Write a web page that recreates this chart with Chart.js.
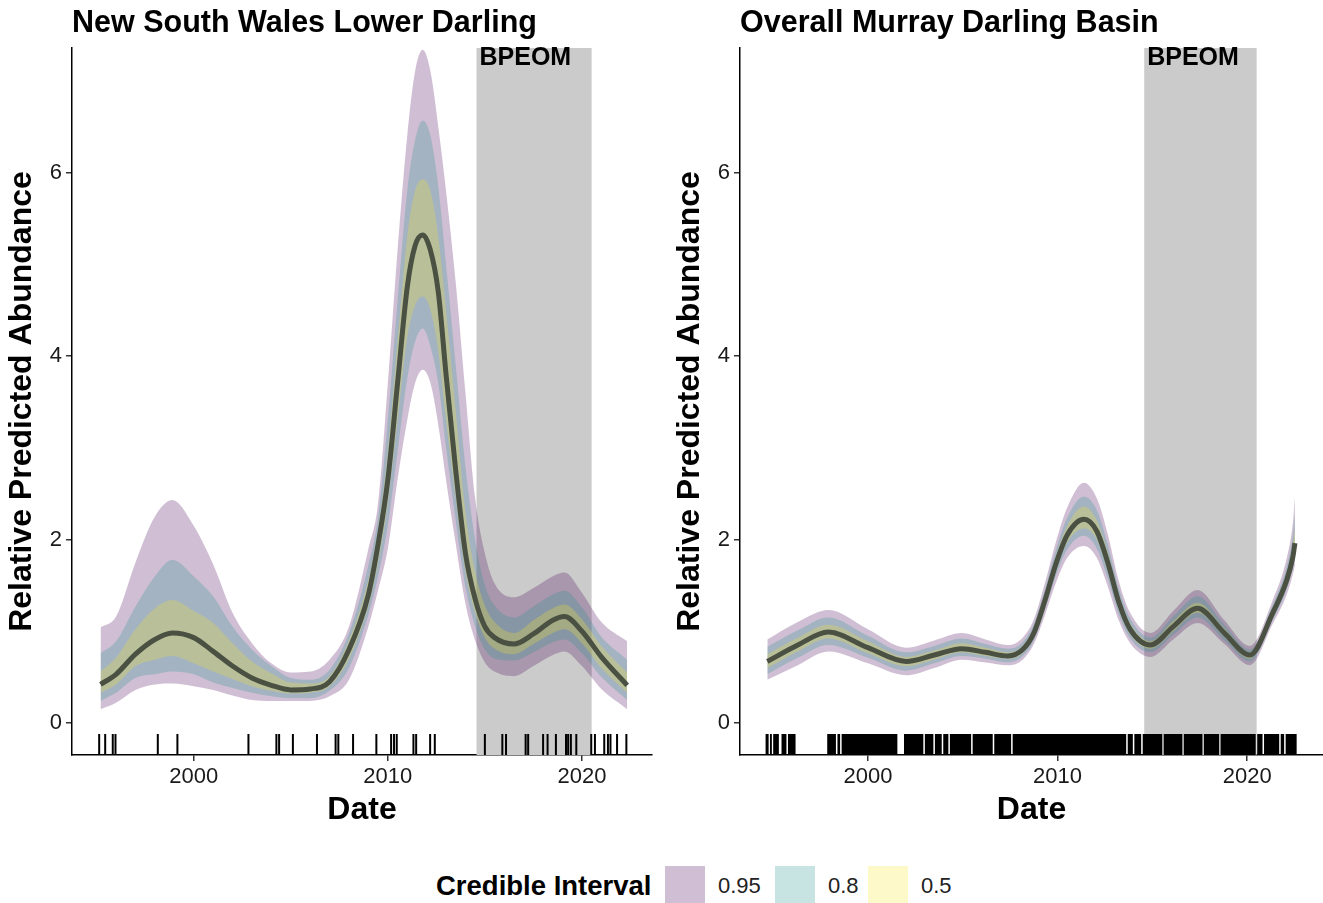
<!DOCTYPE html>
<html>
<head>
<meta charset="utf-8">
<script src="https://cdn.jsdelivr.net/npm/chart.js@4"></script>
<style>
  body { margin: 0; background: #fff; width: 1323px; height: 903px; overflow: hidden; position: relative;
         font-family: "Liberation Sans", Arial, sans-serif; }
  .panel { position: absolute; top: 0; height: 840px; }
  #legend { position: absolute; left: 0; top: 866px; width: 1323px; height: 40px; }
  #legend span { position: absolute; top: 0; height: 40px; line-height: 40px; white-space: nowrap; }
  #legend .ttl { font-weight: bold; font-size: 27.5px; color: #000; }
  #legend .lbl { font-size: 22px; color: #222; }
</style>
</head>
<body>
<div class="panel" style="left:0;width:662px"><canvas id="nsw"></canvas></div>
<div class="panel" style="left:668px;width:655px"><canvas id="mdb"></canvas></div>
<div id="legend"></div>

<script>
// model fits: decimal year, posterior mean and credible bounds
const nswYear = [1995.2, 1996, 1997, 1998, 1998.9, 2000, 2001, 2002, 2003, 2004, 2005, 2006, 2007, 2008, 2009,
  2009.5, 2010, 2010.5, 2011, 2011.4, 2011.8, 2012.2, 2012.6, 2013, 2013.5, 2014, 2014.5, 2015, 2015.5, 2016.5,
  2017.5, 2018.5, 2019.1, 2020, 2021, 2022.33];
const nswMean = [0.42, 0.53, 0.75, 0.91, 0.98, 0.93, 0.78, 0.62, 0.49, 0.41, 0.36, 0.37, 0.45, 0.80, 1.40,
  1.95, 2.65, 3.70, 4.75, 5.20, 5.32, 5.15, 4.70, 3.80, 2.75, 1.85, 1.35, 1.05, 0.93, 0.86,
  0.97, 1.12, 1.16, 1.00, 0.72, 0.41];
const nswHi95 = [1.04, 1.16, 1.75, 2.25, 2.43, 2.15, 1.73, 1.20, 0.87, 0.65, 0.55, 0.56, 0.69, 1.05, 1.90,
  2.40, 3.70, 5.15, 6.40, 7.10, 7.34, 7.10, 6.50, 5.80, 4.80, 3.60, 2.45, 1.85, 1.52, 1.37,
  1.47, 1.60, 1.64, 1.42, 1.10, 0.89];
const nswLo95 = [0.15, 0.22, 0.36, 0.42, 0.43, 0.40, 0.36, 0.30, 0.25, 0.24, 0.24, 0.24, 0.29, 0.47, 1.05,
  1.45, 1.90, 2.65, 3.30, 3.70, 3.85, 3.70, 3.25, 2.65, 1.95, 1.30, 0.90, 0.66, 0.56, 0.51,
  0.62, 0.74, 0.78, 0.62, 0.37, 0.15];
const nswHi80 = [0.76, 0.89, 1.27, 1.60, 1.78, 1.60, 1.38, 1.05, 0.80, 0.62, 0.49, 0.47, 0.58, 0.98, 1.72,
  2.25, 3.30, 4.60, 5.80, 6.35, 6.57, 6.40, 5.85, 5.00, 3.90, 2.80, 2.00, 1.50, 1.28, 1.15,
  1.27, 1.40, 1.44, 1.26, 0.94, 0.69];
const nswLo80 = [0.24, 0.33, 0.49, 0.53, 0.56, 0.53, 0.44, 0.38, 0.33, 0.29, 0.27, 0.27, 0.35, 0.60, 1.18,
  1.60, 2.15, 2.95, 3.75, 4.15, 4.30, 4.10, 3.70, 3.00, 2.20, 1.48, 1.05, 0.80, 0.70, 0.68,
  0.77, 0.88, 0.91, 0.76, 0.50, 0.25];
const nswHi50 = [0.56, 0.71, 1.02, 1.25, 1.34, 1.22, 1.09, 0.87, 0.67, 0.54, 0.44, 0.43, 0.51, 0.90, 1.56,
  2.10, 2.95, 4.15, 5.30, 5.80, 5.93, 5.80, 5.30, 4.50, 3.40, 2.30, 1.65, 1.28, 1.10, 0.98,
  1.12, 1.25, 1.29, 1.13, 0.84, 0.55];
const nswLo50 = [0.33, 0.42, 0.62, 0.69, 0.73, 0.65, 0.56, 0.48, 0.40, 0.35, 0.32, 0.33, 0.40, 0.70, 1.28,
  1.75, 2.40, 3.30, 4.20, 4.55, 4.65, 4.50, 4.05, 3.30, 2.45, 1.65, 1.20, 0.93, 0.81, 0.75,
  0.86, 0.98, 1.02, 0.87, 0.60, 0.33];

const mdbYear = [1994.69, 1996.3, 1997.91, 2000.0, 2002.01, 2003.5, 2004.94, 2006.2, 2007.38, 2008.16,
  2008.75, 2009.34, 2009.92, 2010.51, 2011.39, 2012.07, 2012.66, 2013.24, 2013.83, 2014.9,
  2016.1, 2017.38, 2018.8, 2020.14, 2021.35, 2022.09, 2022.41, 2022.52];
const mdbMean = [0.67, 0.85, 0.99, 0.82, 0.67, 0.74, 0.81, 0.77, 0.73, 0.80,
  0.98, 1.34, 1.74, 2.05, 2.22, 2.09, 1.74, 1.31, 1.02, 0.85,
  1.05, 1.25, 0.98, 0.74, 1.20, 1.56, 1.81, 1.96];
const mdbHi95 = [0.91, 1.10, 1.23, 1.02, 0.82, 0.90, 0.98, 0.91, 0.85, 0.93,
  1.13, 1.53, 1.98, 2.35, 2.62, 2.45, 2.05, 1.54, 1.20, 0.98,
  1.22, 1.45, 1.12, 0.84, 1.34, 1.80, 2.18, 2.47];
const mdbLo95 = [0.47, 0.63, 0.78, 0.65, 0.52, 0.60, 0.69, 0.66, 0.63, 0.69,
  0.86, 1.18, 1.53, 1.80, 1.93, 1.80, 1.48, 1.11, 0.87, 0.72,
  0.91, 1.09, 0.86, 0.63, 1.08, 1.40, 1.62, 1.72];
const mdbHi80 = [0.83, 1.01, 1.15, 0.95, 0.77, 0.84, 0.92, 0.86, 0.81, 0.88,
  1.08, 1.46, 1.89, 2.24, 2.47, 2.32, 1.94, 1.46, 1.14, 0.93,
  1.16, 1.38, 1.07, 0.80, 1.29, 1.71, 2.05, 2.28];
const mdbLo80 = [0.53, 0.71, 0.85, 0.71, 0.57, 0.65, 0.73, 0.70, 0.66, 0.73,
  0.90, 1.24, 1.61, 1.89, 2.04, 1.90, 1.57, 1.18, 0.92, 0.77,
  0.96, 1.15, 0.90, 0.67, 1.12, 1.46, 1.69, 1.81];
const mdbHi50 = [0.75, 0.93, 1.07, 0.89, 0.72, 0.79, 0.87, 0.82, 0.77, 0.84,
  1.03, 1.40, 1.82, 2.15, 2.36, 2.21, 1.85, 1.39, 1.08, 0.89,
  1.11, 1.31, 1.03, 0.77, 1.25, 1.64, 1.94, 2.13];
const mdbLo50 = [0.60, 0.78, 0.92, 0.76, 0.62, 0.69, 0.77, 0.73, 0.70, 0.76,
  0.94, 1.29, 1.67, 1.97, 2.12, 2.00, 1.65, 1.24, 0.97, 0.81,
  1.00, 1.20, 0.94, 0.70, 1.16, 1.50, 1.75, 1.88];

// survey dates (rug)
const nswRugDates = [1995.13, 1995.44, 1995.83, 1995.97, 1998.15, 1999.16, 2002.82, 2004.26, 2004.40, 2005.11,
  2006.35, 2007.31, 2007.45, 2008.21, 2009.41, 2010.17, 2010.32, 2010.46, 2011.32, 2011.46,
  2012.18, 2012.42, 2015.00, 2015.90, 2016.09, 2017.10, 2017.23, 2018.00, 2018.23, 2018.66,
  2019.18, 2019.29, 2019.43, 2019.71, 2020.48, 2020.67, 2021.15, 2021.34, 2021.47, 2021.81, 2022.29];
// basin-wide sampling is near continuous, so it is kept as runs of dates
const mdbRugSpans = [
  [1994.60, 1994.76], [1994.83, 1994.93], [1995.00, 1995.30], [1995.44, 1995.70], [1995.78, 1996.18],
  [1997.85, 1998.31], [1998.39, 1998.53], [1998.61, 2001.55],
  [2001.90, 2002.92], [2003.00, 2003.45], [2003.53, 2003.89], [2003.97, 2004.24], [2004.32, 2005.44],
  [2005.52, 2006.58], [2006.66, 2007.55], [2007.63, 2013.62], [2013.70, 2013.97], [2014.05, 2014.41],
  [2014.49, 2015.52], [2015.60, 2016.58], [2016.66, 2017.64], [2017.72, 2018.52], [2018.60, 2020.45],
  [2020.53, 2020.81], [2020.89, 2021.69], [2021.77, 2021.95], [2022.03, 2022.61]
];

const bpeomPeriod = [2014.57, 2020.5];
const xTickYears = [2000, 2010, 2020];
const yTickValues = [0, 2, 4, 6];
const intervalLevels = ['0.95', '0.8', '0.5'];
const levelFill = {
  '0.95': 'rgba(68, 1, 84, 0.25)',
  '0.8': 'rgba(33, 144, 140, 0.25)',
  '0.5': 'rgba(253, 231, 37, 0.25)'
};

const FONT = '"Liberation Sans", Arial, sans-serif';
Chart.defaults.font.family = FONT;
Chart.defaults.color = '#1a1a1a';
Chart.defaults.animation = false;

const pts = (xs, ys) => xs.map((x, i) => ({ x: x, y: ys[i] }));

function bandPair(xs, hi, lo, level) {
  return [
    { data: pts(xs, hi), borderColor: 'transparent', borderWidth: 0, pointRadius: 0,
      backgroundColor: levelFill[level], fill: { target: '+1' }, cubicInterpolationMode: 'monotone' },
    { data: pts(xs, lo), borderColor: 'transparent', borderWidth: 0, pointRadius: 0,
      fill: false, cubicInterpolationMode: 'monotone' }
  ];
}

// grey management period with its label
const bpeomShade = {
  id: 'bpeomShade',
  beforeDatasetsDraw(chart) {
    const { ctx, chartArea, scales: { x } } = chart;
    const x0 = x.getPixelForValue(bpeomPeriod[0]);
    const x1 = x.getPixelForValue(bpeomPeriod[1]);
    ctx.save();
    ctx.fillStyle = '#cbcbcb';
    ctx.fillRect(x0, chartArea.top, x1 - x0, chartArea.bottom - chartArea.top);
    ctx.fillStyle = '#000';
    ctx.font = 'bold 25px ' + FONT;
    ctx.textBaseline = 'top';
    ctx.fillText('BPEOM', x0 + 3, chartArea.top - 2);
    ctx.restore();
  }
};

// rug of survey dates along the bottom of the panel
const rugPlugin = {
  id: 'rug',
  afterDatasetsDraw(chart, args, opts) {
    const { ctx, chartArea, scales: { x } } = chart;
    const len = 21;
    ctx.save();
    ctx.fillStyle = '#000';
    (opts.dates || []).forEach(d => {
      const px = x.getPixelForValue(d);
      ctx.fillRect(px - 1, chartArea.bottom - len, 2, len);
    });
    (opts.spans || []).forEach(([a, b]) => {
      const p0 = x.getPixelForValue(a), p1 = x.getPixelForValue(b);
      ctx.fillRect(p0, chartArea.bottom - len, p1 - p0, len);
    });
    ctx.restore();
  }
};

const panelTitle = {
  id: 'panelTitle',
  afterDraw(chart, args, opts) {
    const { ctx, chartArea } = chart;
    ctx.save();
    ctx.fillStyle = '#000';
    ctx.font = 'bold 30.5px ' + FONT;
    ctx.textBaseline = 'alphabetic';
    ctx.fillText(opts.text, chartArea.left, 32);
    ctx.restore();
  }
};

function axisCommon() {
  return {
    grid: { drawOnChartArea: false, drawTicks: true, tickLength: 6, color: '#333', lineWidth: 1.5 },
    border: { display: true, color: '#000', width: 1.5 }
  };
}

function makePanel(id, title, xs, mean, hi95, lo95, hi80, lo80, hi50, lo50, xMin, xMax, rightPad, rug) {
  const datasets = [
    { data: pts(xs, mean), borderColor: '#4b5142', borderWidth: 5, pointRadius: 0, fill: false,
      cubicInterpolationMode: 'monotone', borderCapStyle: 'butt' },
    ...bandPair(xs, hi50, lo50, '0.5'),
    ...bandPair(xs, hi80, lo80, '0.8'),
    ...bandPair(xs, hi95, lo95, '0.95')
  ];
  return new Chart(document.getElementById(id), {
    type: 'line',
    data: { datasets: datasets },
    options: {
      responsive: true,
      maintainAspectRatio: false,
      layout: { padding: { top: 48, right: rightPad, left: 0, bottom: 0 } },
      plugins: {
        legend: { display: false },
        tooltip: { enabled: false },
        panelTitle: { text: title },
        rug: rug
      },
      scales: {
        x: {
          type: 'linear', min: xMin, max: xMax,
          afterBuildTicks: s => { s.ticks = xTickYears.map(v => ({ value: v })); },
          afterFit: s => { s.height = 85; },
          ...axisCommon(),
          ticks: { padding: 3, font: { size: 22 }, color: '#1a1a1a', maxRotation: 0, autoSkip: false,
                   callback: v => String(v) },
          title: { display: true, text: 'Date', font: { size: 32, weight: 'bold' }, color: '#000',
                   padding: { top: 0, bottom: 11 } }
        },
        y: {
          type: 'linear', min: -0.35, max: 7.36,
          afterBuildTicks: s => { s.ticks = yTickValues.map(v => ({ value: v })); },
          afterFit: s => { s.width = 72; },
          ...axisCommon(),
          ticks: { padding: 4, font: { size: 22 }, color: '#1a1a1a' },
          title: { display: true, text: 'Relative Predicted Abundance', font: { size: 32, weight: 'bold' },
                   color: '#000', padding: { top: 3, bottom: 0 } }
        }
      }
    },
    plugins: [bpeomShade, rugPlugin, panelTitle]
  });
}

makePanel('nsw', 'New South Wales Lower Darling', nswYear, nswMean, nswHi95, nswLo95, nswHi80, nswLo80,
  nswHi50, nswLo50, 1993.73, 2023.61, 10, { dates: nswRugDates });
makePanel('mdb', 'Overall Murray Darling Basin', mdbYear, mdbMean, mdbHi95, mdbLo95, mdbHi80, mdbLo80,
  mdbHi50, mdbLo50, 1993.25, 2024.0, 0, { spans: mdbRugSpans });

// shared legend for the credible interval fills
const legend = document.getElementById('legend');
const ttl = document.createElement('span');
ttl.className = 'ttl';
ttl.style.left = '436px';
ttl.textContent = 'Credible Interval';
legend.appendChild(ttl);
const swatchLeft = [665, 775, 868];
intervalLevels.forEach((lvl, i) => {
  const sw = document.createElement('span');
  sw.style.left = swatchLeft[i] + 'px';
  sw.style.width = '40px';
  sw.style.background = levelFill[lvl];
  legend.appendChild(sw);
  const lb = document.createElement('span');
  lb.className = 'lbl';
  lb.style.left = (swatchLeft[i] + 53) + 'px';
  lb.textContent = lvl;
  legend.appendChild(lb);
});
</script>
</body>
</html>
